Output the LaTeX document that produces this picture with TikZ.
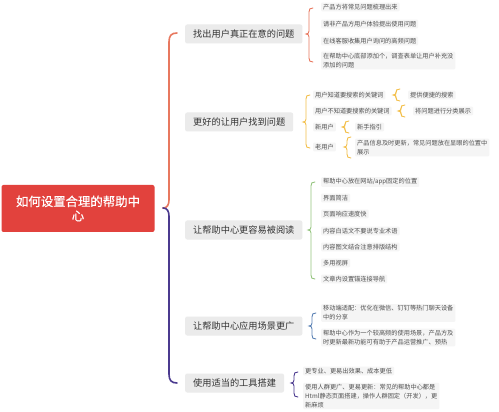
\documentclass[tikz,border=0pt]{standalone}
\usepackage{fontspec}
\newfontfamily\cjk{Noto Sans CJK SC}
\newfontfamily\cjkbold[FakeBold=0.6]{Noto Sans CJK SC}
\definecolor{rootred}{HTML}{E2423D}
\definecolor{brorange}{HTML}{E8785F}
\definecolor{brpurple}{HTML}{4B3A8F}
\definecolor{brgold}{HTML}{F3C04C}
\definecolor{brgreen}{HTML}{94C47E}
\definecolor{brblue}{HTML}{5B82B5}
\definecolor{branchbg}{HTML}{EBEBEB}
\definecolor{branchtxt}{HTML}{333333}
\definecolor{leafbg}{HTML}{F5F5F5}
\definecolor{leaftxt}{HTML}{505050}
\newcommand\mybrace[5]{%
  \draw[#1] (#2+4,#3) .. controls (#2+1,#3) and (#2,#3+1) .. (#2,#3+4)
    -- (#2,#4-3) .. controls (#2,#4-1) and (#2-1,#4) .. (#2-3,#4)
    .. controls (#2-1,#4) and (#2,#4+1) .. (#2,#4+3)
    -- (#2,#5-4) .. controls (#2,#5-1) and (#2+1,#5) .. (#2+4,#5);}
\begin{document}
\begin{tikzpicture}[x=1pt,y=-1pt,
  rootbox/.style={fill=rootred, text=white, rounded corners=2pt, minimum width=153pt, minimum height=47pt, align=center, inner sep=0pt, font=\cjkbold\fontsize{12.4}{14.5}\selectfont},
  branch/.style={fill=branchbg, text=branchtxt, rounded corners=2pt, anchor=west, inner xsep=8pt, minimum height=19pt, inner ysep=0pt, font=\cjk\fontsize{9.2}{11}\selectfont},
  leaf/.style={fill=leafbg, text=leaftxt, rounded corners=1pt, anchor=west, inner xsep=2pt, inner ysep=1.5pt, align=left, font=\cjk\fontsize{6.2}{8.8}\selectfont},
  bigbrace/.style={line width=1.6pt, line cap=round},
  smallbrace/.style={line width=0.9pt, line cap=round}]
\useasboundingbox[fill=white] (0,0) rectangle (499,412);

% root
\node[rootbox] (root) at (78,208.5) {如何设置合理的帮助中\\心};

% root brace
\coordinate (rtip) at (163,208);
\coordinate (rtop) at (177,33);
\coordinate (rbot) at (177,383);
\draw[bigbrace, brorange] (rtop) .. controls (171,33) and (169,36) .. (169,42) -- (169,200) .. controls (169,205) and (167,208) .. (rtip);
\draw[bigbrace, brpurple] (rtip) .. controls (167,208) and (169,211) .. (169,216) -- (169,374) .. controls (169,380) and (171,383) .. (rbot);

% branches
\node[branch] (b1) at (185,34) {找出用户真正在意的问题};
\node[branch] (b2) at (185,122) {更好的让用户找到问题};
\node[branch] (b3) at (185,230) {让帮助中心更容易被阅读};
\node[branch] (b4) at (185,326) {让帮助中心应用场景更广};
\node[branch] (b5) at (185,383) {使用适当的工具搭建};

% branch 1
\mybrace{smallbrace, brorange}{309}{8}{34}{62}
\node[leaf] (l11) at (321,7) {产品方将常见问题梳理出来};
\node[leaf] (l12) at (321,24) {请非产品方用户体验提出使用问题};
\node[leaf] (l13) at (321,41) {在线客服收集用户询问的高频问题};
\node[leaf] (l14) at (321,60.5) {在帮助中心底部添加个，调查表单让用户补充没\\添加的问题};

% branch 2
\mybrace{smallbrace, brgold}{306}{95}{122}{148}
\node[leaf] (l21) at (313,95) {用户知道要搜索的关键词};
\node[leaf] (l22) at (313,111) {用户不知道要搜索的关键词};
\node[leaf] (l23) at (313,127) {新用户};
\node[leaf] (l24) at (313,147) {老用户};
\mybrace{smallbrace, brgold}{396}{89}{95}{101}
\node[leaf] (l21a) at (408,95) {提供便捷的搜索};
\mybrace{smallbrace, brgold}{401}{105}{111}{117}
\node[leaf] (l22a) at (413,111) {将问题进行分类展示};
\mybrace{smallbrace, brgold}{345}{121}{127}{133}
\node[leaf] (l23a) at (355,127) {新手指引};
\mybrace{smallbrace, brgold}{347}{137}{147}{158}
\node[leaf] (l24a) at (355,147.5) {产品信息及时更新，常见问题放在显眼的位置中\\展示};

% branch 3
\mybrace{smallbrace, brgreen}{311}{182}{230}{279}
\node[leaf] (l31) at (321,182) {帮助中心放在网站/app固定的位置};
\node[leaf] (l32) at (321,198) {界面简洁};
\node[leaf] (l33) at (321,214) {页面响应速度快};
\node[leaf] (l34) at (321,231) {内容白话文不要说专业术语};
\node[leaf] (l35) at (321,247) {内容图文结合注意排版结构};
\node[leaf] (l36) at (321,263) {多用视屏};
\node[leaf] (l37) at (321,279) {文章内设置锚连接导航};

% branch 4
\mybrace{smallbrace, brblue}{312}{313}{326}{339}
\node[leaf] (l41) at (321,313) {移动端适配：优化在微信、钉钉等热门聊天设备\\中的分享};
\node[leaf] (l42) at (321,337.5) {帮助中心作为一个较高频的使用场景，产品方及\\时更新最新功能可有助于产品运营推广、预热};

% branch 5
\mybrace{smallbrace, brpurple}{294}{372}{383}{397}
\node[leaf] (l51) at (303,371) {更专业、更易出效果、成本更低};
\node[leaf] (l52) at (303,396) {使用人群更广、更易更新：常见的帮助中心都是\\Html静态页面搭建，操作人群固定（开发），更\\新麻烦};
\end{tikzpicture}
\end{document}
